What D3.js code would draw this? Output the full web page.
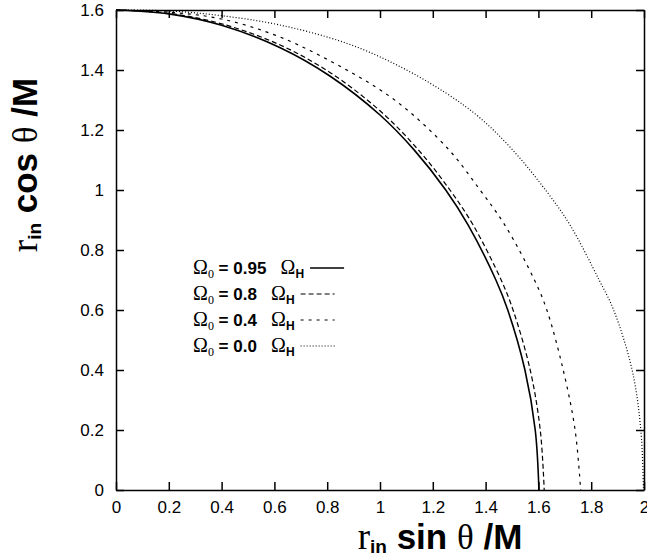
<!DOCTYPE html>
<html>
<head>
<meta charset="utf-8">
<script src="https://cdn.jsdelivr.net/npm/d3@7"></script>
<style>
  body { margin: 0; background: #fff; }
  svg { display: block; }
</style>
</head>
<body>
<script>
var width = 647, height = 559;

// curve points: [r sin θ, r cos θ]
var omega095 = [[0,1.6],[0.2,1.587],[0.4,1.549],[0.62,1.475],[0.81,1.38],[1.0,1.25],[1.13,1.133],[1.249,1.0],[1.334,0.883],[1.439,0.70],[1.484,0.60],[1.549,0.40],[1.588,0.2],[1.602,0]];
var omega08 = [[0,1.6],[0.2,1.589],[0.4,1.554],[0.62,1.484],[0.81,1.392],[1.0,1.264],[1.146,1.133],[1.265,1.0],[1.353,0.883],[1.459,0.70],[1.504,0.60],[1.569,0.40],[1.607,0.2],[1.622,0]];
var omega04 = [[0,1.6],[0.2,1.593],[0.4,1.57],[0.621,1.51],[0.874,1.40],[1.063,1.295],[1.255,1.14],[1.379,1.0],[1.473,0.883],[1.585,0.70],[1.632,0.60],[1.694,0.40],[1.739,0.2],[1.76,0]];
var omega00 = [[0,1.6],[0.2,1.597],[0.4,1.581],[0.621,1.55],[0.874,1.489],[1.063,1.417],[1.252,1.322],[1.379,1.24],[1.5,1.136],[1.632,0.994],[1.72,0.883],[1.83,0.70],[1.885,0.60],[1.955,0.40],[1.988,0.2],[1.998,0]];

var seriesLabels = ['0.95', '0.8', '0.4', '0.0'];
var seriesDash = ['none', '5,3', '3,5', '1,2'];
var seriesData = [omega095, omega08, omega04, omega00];

var xTicks = [0, 0.2, 0.4, 0.6, 0.8, 1, 1.2, 1.4, 1.6, 1.8, 2];
var yTicks = [0, 0.2, 0.4, 0.6, 0.8, 1, 1.2, 1.4, 1.6];

var margin = {left: 116, right: 3, top: 10, bottom: 69};

var x = d3.scaleLinear().domain([0, 2]).range([margin.left, width - margin.right]);
var y = d3.scaleLinear().domain([0, 1.6]).range([height - margin.bottom, margin.top]);

var fmt = function (d) { return String(+d.toFixed(1)); };
var sans = "'Liberation Sans', Arial, Helvetica, sans-serif";
var serif = "'Liberation Serif', 'Times New Roman', serif";

var svg = d3.select('body').append('svg').attr('width', width).attr('height', height);

function styleAxis(g) {
    g.selectAll('path.domain').attr('stroke', '#000').attr('stroke-width', 1.5);
    g.selectAll('.tick line').attr('stroke', '#000').attr('stroke-width', 1.5);
    g.selectAll('text').attr('font-family', sans).attr('font-size', 17).attr('fill', '#000');
}

svg.append('g')
    .attr('transform', 'translate(0,' + y(0) + ')')
    .call(d3.axisBottom(x).tickValues(xTicks).tickFormat(fmt).tickSize(-8).tickSizeOuter(0).tickPadding(11))
    .call(styleAxis);

svg.append('g')
    .attr('transform', 'translate(' + x(0) + ',0)')
    .call(d3.axisLeft(y).tickValues(yTicks).tickFormat(fmt).tickSize(-8).tickSizeOuter(0).tickPadding(12))
    .call(styleAxis);

svg.append('g')
    .attr('transform', 'translate(0,' + y(1.6) + ')')
    .call(d3.axisTop(x).tickValues(xTicks).tickFormat('').tickSize(-8).tickSizeOuter(0))
    .call(styleAxis);

svg.append('g')
    .attr('transform', 'translate(' + x(2) + ',0)')
    .call(d3.axisRight(y).tickValues(yTicks).tickFormat('').tickSize(-8).tickSizeOuter(0))
    .call(styleAxis);

// curves
var line = d3.line()
    .x(function (d) { return x(d[0]); })
    .y(function (d) { return y(d[1]); })
    .curve(d3.curveCatmullRom.alpha(0.5));

svg.append('g').selectAll('path')
    .data(seriesData)
    .enter().append('path')
    .attr('d', line)
    .attr('fill', 'none')
    .attr('stroke', '#000')
    .attr('stroke-width', function (d, i) { return i === 0 ? 1.6 : 1.2; })
    .attr('stroke-dasharray', function (d, i) { return seriesDash[i]; });

// legend
var legend = svg.append('g');
seriesLabels.forEach(function (lab, i) {
    var lx = 193, ty = 274 + i * 26;
    var t = legend.append('text').attr('x', lx).attr('y', ty).attr('fill', '#000');
    t.append('tspan').attr('font-family', serif).attr('font-size', 20).text('\u03A9');
    t.append('tspan').attr('font-family', serif).attr('font-size', 12).attr('dy', 4).text('0');
    t.append('tspan').attr('font-family', sans).attr('font-weight', 'bold').attr('font-size', 17).attr('dy', -4).text(' = ' + lab + '\u00A0\u00A0\u00A0');
    t.append('tspan').attr('font-family', serif).attr('font-size', 20).text('\u03A9');
    t.append('tspan').attr('font-family', sans).attr('font-weight', 'bold').attr('font-size', 12).attr('dy', 4).text('H');
    var w = t.node().getComputedTextLength();
    legend.append('line')
        .attr('x1', lx + w + 6).attr('x2', lx + w + 40)
        .attr('y1', ty - 6).attr('y2', ty - 6)
        .attr('stroke', '#000')
        .attr('stroke-width', i === 0 ? 1.6 : 1.2)
        .attr('stroke-dasharray', seriesDash[i]);
});

// axis titles
function axisTitle(t, fn) {
    t.append('tspan').attr('font-family', serif).attr('font-size', 37).text('r');
    t.append('tspan').attr('font-family', sans).attr('font-weight', 'bold').attr('font-size', 19).attr('dy', 4).text('in');
    t.append('tspan').attr('font-family', sans).attr('font-weight', 'bold').attr('font-size', 35).attr('dy', -4).text(' ' + fn + ' ');
    t.append('tspan').attr('font-family', serif).attr('font-size', 35).text('\u03B8');
    t.append('tspan').attr('font-family', sans).attr('font-weight', 'bold').attr('font-size', 35).text(' /M');
}

var xt = svg.append('text').attr('x', 440).attr('y', 549).attr('text-anchor', 'middle').attr('fill', '#000');
axisTitle(xt, 'sin');

var yt = svg.append('text').attr('transform', 'translate(37,165) rotate(-90)').attr('text-anchor', 'middle').attr('fill', '#000');
axisTitle(yt, 'cos');
</script>
</body>
</html>
